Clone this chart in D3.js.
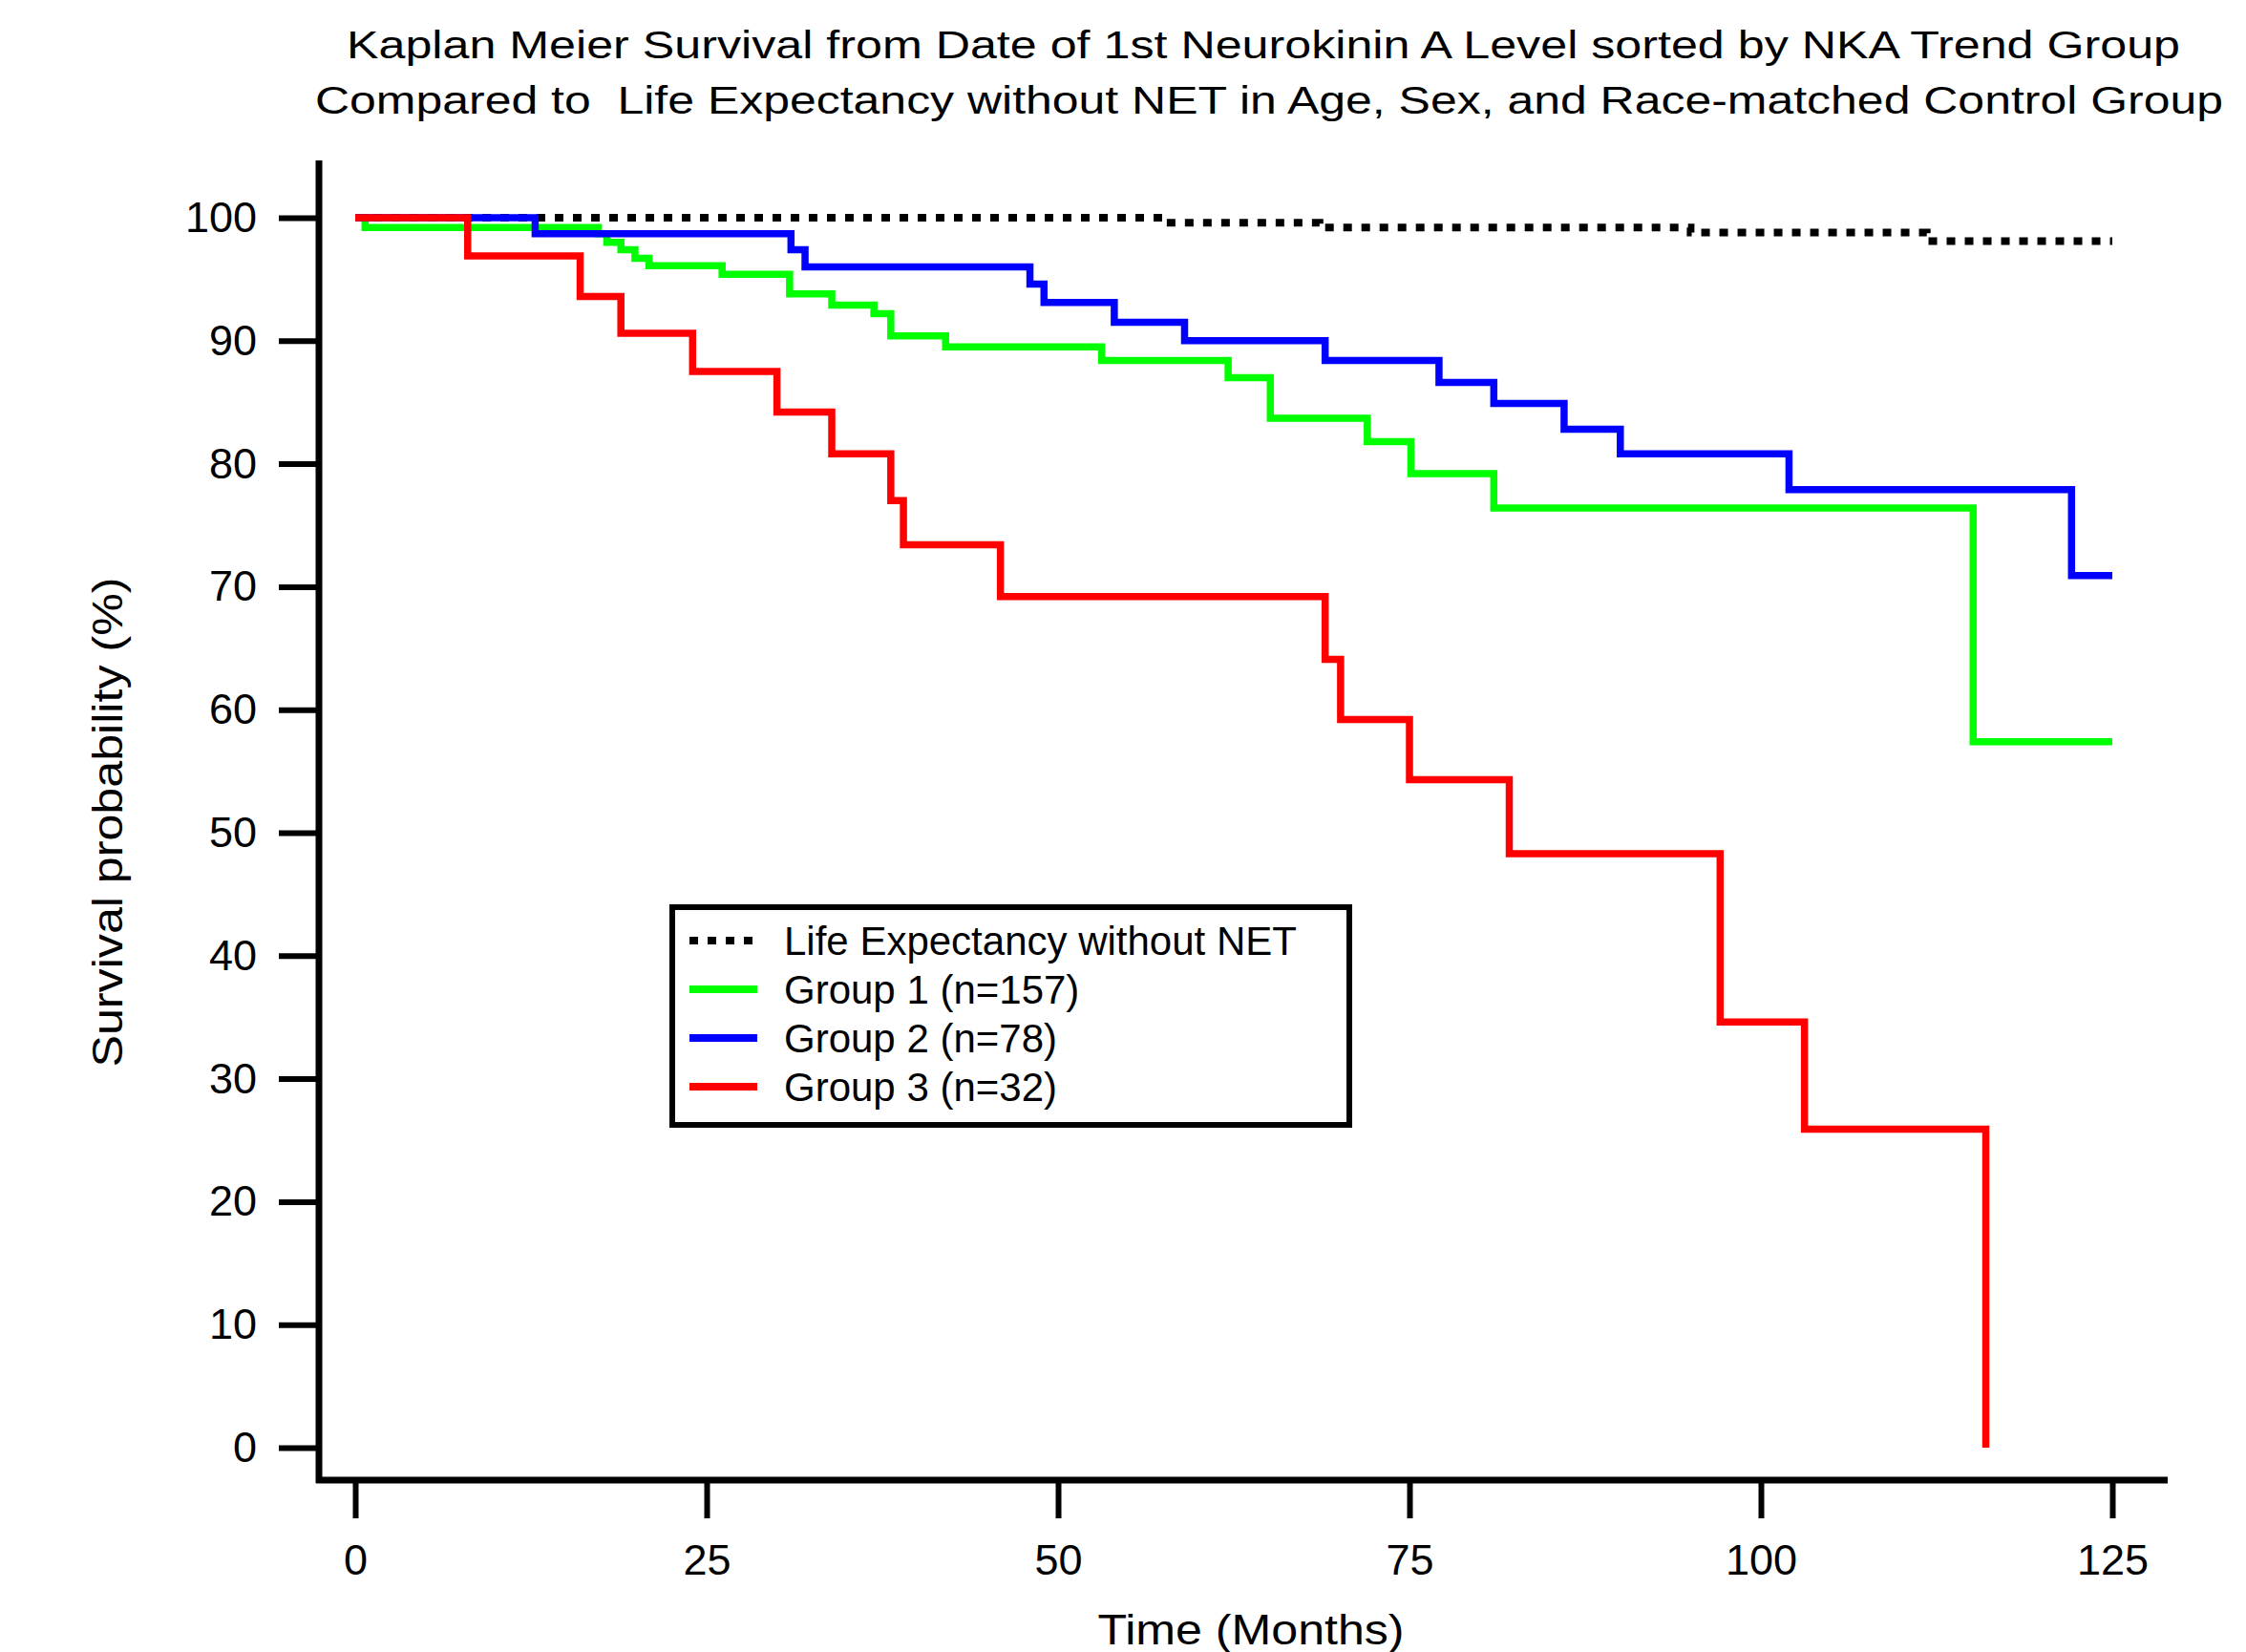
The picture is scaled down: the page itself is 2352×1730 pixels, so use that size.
<!DOCTYPE html>
<html>
<head>
<meta charset="utf-8">
<script src="https://cdn.jsdelivr.net/npm/d3@7"></script>
<style>
  html, body { margin: 0; padding: 0; background: #fff; }
  svg { display: block; font-family: "Liberation Sans", Arial, sans-serif; }
  text { white-space: pre; }
</style>
</head>
<body>
<svg id="chart" width="2352" height="1730"></svg>
<script>
// ---- Data ----
const titleLines = [
  "Kaplan Meier Survival from Date of 1st Neurokinin A Level sorted by NKA Trend Group",
  "Compared to  Life Expectancy without NET in Age, Sex, and Race-matched Control Group"
];
const xTicks = [0, 25, 50, 75, 100, 125];
const yTicks = [0, 10, 20, 30, 40, 50, 60, 70, 80, 90, 100];
const xLabel = "Time (Months)";
const yLabel = "Survival probability (%)";

const seriesNames = ["Life Expectancy without NET", "Group 1 (n=157)", "Group 2 (n=78)", "Group 3 (n=32)"];
const seriesColors = ["#000000", "#00ff00", "#0000ff", "#ff0000"];

// [months, survival %]
const lifeExpectancy = [[0,100],[57.5,99.6],[68.6,99.2],[95.0,98.8],[111.8,98.1],[125,98.1]];
const group1 = [[0,100],[0.7,99.2],[17.3,98.7],[17.9,98.0],[18.9,97.4],[19.9,96.7],[20.9,96.1],[26.1,95.4],
  [30.9,93.8],[33.9,92.9],[36.9,92.2],[38.1,90.4],[42.0,89.5],[53.1,88.4],[62.1,87.0],[65.1,83.7],
  [72.0,81.8],[75.1,79.2],[81.0,76.4],[115.1,57.4],[125,57.4]];
const group2 = [[0,100],[12.8,98.7],[31.0,97.4],[32.0,96.0],[48.0,94.6],[49.0,93.1],[54.0,91.5],[59.0,90.0],
  [69.0,88.4],[77.1,86.6],[81.0,84.9],[86.0,82.8],[90.0,80.8],[102.0,77.9],[122.1,70.9],[125,70.9]];
const group3 = [[0,100],[8.0,96.9],[16.0,93.6],[18.9,90.6],[24.0,87.5],[30.0,84.2],[33.9,80.8],[38.1,77.0],
  [39.0,73.4],[45.9,69.2],[69.0,64.1],[70.1,59.2],[75.0,54.3],[82.1,48.3],[97.1,34.6],[103.1,25.9],[116.0,0]];

// ---- Layout ----
const svg = d3.select("#chart");
const x = d3.scaleLinear().domain([0, 125]).range([372, 2212]);
const y = d3.scaleLinear().domain([0, 100]).range([1516, 228]);
const axisX0 = 334, axisY0 = 1550;
const fontMain = 45;

// Title (glyphs in the reference are wider than Liberation Sans: stretch to the measured widths)
const titleLayout = [{cx: 1323, y: 61, w: 1920}, {cx: 1329, y: 119, w: 1998}];
svg.append("g").selectAll("text").data(titleLines).join("text")
  .attr("x", (d, i) => titleLayout[i].cx).attr("y", (d, i) => titleLayout[i].y)
  .attr("text-anchor", "middle").attr("font-size", 41).attr("fill", "#000")
  .attr("textLength", (d, i) => titleLayout[i].w).attr("lengthAdjust", "spacingAndGlyphs")
  .text(d => d);

// Series lines
const line = d3.line().x(d => x(d[0])).y(d => y(d[1])).curve(d3.curveStepAfter);
const allSeries = [lifeExpectancy, group1, group2, group3];
svg.append("g").selectAll("path").data(allSeries).join("path")
  .attr("d", line)
  .attr("fill", "none")
  .attr("stroke", (d, i) => seriesColors[i])
  .attr("stroke-width", (d, i) => i === 0 ? 8 : 7.5)
  .attr("stroke-dasharray", (d, i) => i === 0 ? "9,10" : null)
  .attr("stroke-linejoin", "miter")
  .attr("stroke-linecap", "butt");

// Axes
const yAxis = d3.axisLeft(y).tickValues(yTicks).tickSize(42).tickPadding(23);
const gy = svg.append("g").attr("transform", `translate(${axisX0},0)`).call(yAxis);
const xAxis = d3.axisBottom(x).tickValues(xTicks).tickSize(40).tickPadding(27);
const gx = svg.append("g").attr("transform", `translate(0,${axisY0})`).call(xAxis);
[gx, gy].forEach(g => {
  g.select(".domain").remove();
  g.selectAll(".tick line").attr("stroke", "#000").attr("stroke-width", 6);
  g.selectAll(".tick text").attr("fill", "#000").attr("font-size", fontMain)
    .attr("font-family", "\"Liberation Sans\", Arial, sans-serif");
});
// axis lines
svg.append("line").attr("x1", axisX0).attr("x2", axisX0).attr("y1", 168).attr("y2", axisY0 + 3)
  .attr("stroke", "#000").attr("stroke-width", 7);
svg.append("line").attr("x1", axisX0 - 3).attr("x2", 2270).attr("y1", axisY0).attr("y2", axisY0)
  .attr("stroke", "#000").attr("stroke-width", 7);

// Axis titles
svg.append("text").attr("x", 1310).attr("y", 1722).attr("text-anchor", "middle")
  .attr("font-size", 44).attr("fill", "#000")
  .attr("textLength", 321).attr("lengthAdjust", "spacingAndGlyphs").text(xLabel);
svg.append("text").attr("transform", "translate(128,861) rotate(-90)").attr("text-anchor", "middle")
  .attr("font-size", 44).attr("fill", "#000")
  .attr("textLength", 513).attr("lengthAdjust", "spacingAndGlyphs").text(yLabel);

// Legend
const lg = svg.append("g");
lg.append("rect").attr("x", 704).attr("y", 950).attr("width", 709).attr("height", 228)
  .attr("fill", "#fff").attr("stroke", "#000").attr("stroke-width", 6);
const rows = lg.selectAll("g.row").data(seriesNames).join("g").attr("class", "row")
  .attr("transform", (d, i) => `translate(0,${985 + i * 51})`);
rows.append("line").attr("x1", 722).attr("x2", 793).attr("y1", 0).attr("y2", 0)
  .attr("stroke", (d, i) => seriesColors[i]).attr("stroke-width", 8)
  .attr("stroke-dasharray", (d, i) => i === 0 ? "9,10" : null);
rows.append("text").attr("x", 821).attr("y", 15).attr("font-size", 42).attr("fill", "#000").text(d => d);
</script>
</body>
</html>
